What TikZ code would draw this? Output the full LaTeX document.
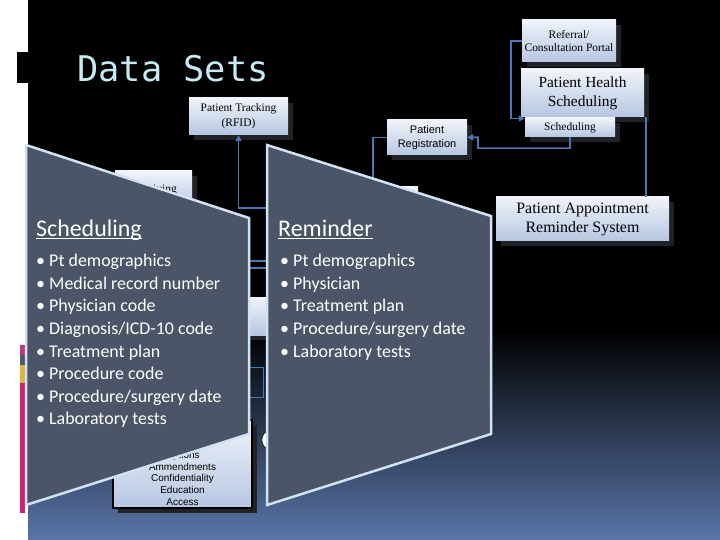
\documentclass[tikz,border=0pt]{standalone}
\usepackage{fontspec}
\setmainfont{Liberation Serif}
\newfontfamily\panelfont{Carlito}
\newfontfamily\labelsans{Liberation Sans}
\newfontfamily\titlemono{DejaVu Sans Mono}
\usetikzlibrary{arrows.meta,shadows}

\definecolor{slidecyan}{HTML}{C5EAF3}
\definecolor{panelfill}{HTML}{4C5567}
\definecolor{paneledge}{HTML}{CFE3F4}
\definecolor{boxtop}{HTML}{F0F4FA}
\definecolor{boxbottom}{HTML}{B6C6E2}
\definecolor{boxshadow}{HTML}{202228}
\definecolor{linkblue}{HTML}{4F76B4}
\definecolor{deepblue}{HTML}{5A75A8}
\definecolor{barpink}{HTML}{C8347A}
\definecolor{bargray}{HTML}{4A5868}
\definecolor{baryellow}{HTML}{E0B440}
\definecolor{barmagenta}{HTML}{D0206E}

\tikzset{
  sysbox/.style={rectangle, top color=boxtop, bottom color=boxbottom,
    align=center, inner sep=1bp, text=black,
    general shadow={fill=boxshadow, shadow xshift=5bp, shadow yshift=-5bp}},
  link/.style={draw=linkblue, line width=1.6bp, -{Triangle[length=6bp,width=6bp]}},
  linkline/.style={draw=linkblue, line width=1.6bp},
  panel/.style={fill=panelfill, draw=paneledge, line width=2.5bp},
  paneltitle/.style={anchor=base west, inner sep=0pt, text=white,
    font=\panelfont\fontsize{24}{28}\selectfont},
  panellist/.style={anchor=north west, inner sep=0pt, align=left, text=white,
    font=\panelfont\fontsize{18}{22.7}\selectfont},
  titlerule/.style={draw=white, line width=1bp}
}

\begin{document}
\begin{tikzpicture}[x=1bp, y=-1bp]
  \useasboundingbox (0,0) rectangle (720,540);
  % slide background
  \fill[white] (0,0) rectangle (720,540);
  \fill[black] (28,0) rectangle (720,330);
  \shade[top color=black, bottom color=deepblue] (28,330) rectangle (720,540);
  \fill[black] (17,52) rectangle (28,83);
  \fill[barpink]    (20,345) rectangle (25,355);
  \fill[bargray]    (20,355) rectangle (25,365);
  \fill[baryellow]  (20,365) rectangle (25,383);
  \fill[barmagenta] (20,383) rectangle (25,513);

  \node[anchor=base west, inner sep=0pt, text=slidecyan,
        font=\titlemono\fontsize{35.5}{42}\selectfont] (title) at (77,82) {Data Sets};

  % system boxes
  \node[sysbox, minimum width=94bp, minimum height=42bp, font=\fontsize{11.5}{14}\selectfont]
    (referral) at (569,41) {Referral/\\Consultation Portal};
  \node[sysbox, minimum width=123bp, minimum height=48bp, font=\fontsize{15.5}{19}\selectfont]
    (health) at (582.5,93) {Patient Health\\Scheduling};
  \node[sysbox, minimum width=90bp, minimum height=19bp, font=\fontsize{11.5}{14}\selectfont]
    (sched) at (570,127.5) {Scheduling};
  \node[sysbox, minimum width=80bp, minimum height=35bp, font=\labelsans\fontsize{11}{14}\selectfont]
    (regist) at (427,137.5) {Patient\\Registration};
  \node[sysbox, minimum width=99bp, minimum height=37bp, font=\fontsize{11.5}{15}\selectfont]
    (track) at (238.5,116.5) {Patient Tracking\\(RFID)};
  \node[sysbox, minimum width=173bp, minimum height=44bp, font=\fontsize{16}{19}\selectfont]
    (appoint) at (582.5,219) {Patient Appointment\\Reminder System};
  \node[sysbox, minimum width=77bp, minimum height=38bp, font=\fontsize{11.5}{14}\selectfont]
    (archive) at (153.5,190) {Archiving};
  \node[sysbox, minimum width=88bp, minimum height=50bp] (backright) at (374,212) {};
  \node[sysbox, minimum width=130bp, minimum height=38bp] (backmid) at (250,316) {};
  \draw[linkblue, line width=0.8bp] (190,367) rectangle (263,397);
  \draw[black, fill=white] (283,440) ellipse [x radius=21, y radius=14];
  \node[sysbox, draw=black, line width=1.5bp, minimum width=139bp, minimum height=88bp]
    (records) at (182.5,464) {};
  \node[anchor=south, inner sep=0pt, align=center, text=black,
        font=\labelsans\fontsize{10}{11.8}\selectfont]
    (recordtext) at ([yshift=3bp]records.south) {Options\\Ammendments\\Confidentiality\\Education\\Access};

  % connectors
  \coordinate (trackfeed) at (280,208);
  \coordinate (registdown) at (373,200);
  \coordinate (crossAw) at (240,261);
  \coordinate (crossAe) at (275,261);
  \coordinate (crossBw) at (240,268);
  \coordinate (crossBe) at (275,268);
  \draw[link] (referral.west) -- ++(-11,0) |- ([yshift=9bp]sched.west);
  \draw[link] (sched.south) |- ++(-92,11) -- ++(0,-11) -- (regist.east);
  \draw[linkline] ([xshift=2bp]health.south east) -- ([xshift=2bp]health.south east |- appoint.north);
  \draw[linkline] (regist.west) -| (registdown);
  \draw[link] (trackfeed) -| (track.south);
  \draw[linkline] (crossAw) -- (crossAe);
  \draw[linkline] (crossBw) -- (crossBe);

  % data set panels
  \draw[panel] (26,145) -- (249,218) -- (249,434) -- (26,505) -- cycle;
  \draw[panel] (267,145) -- (491,216) -- (491,434) -- (267,505) -- cycle;

  \node[paneltitle] (schedtitle) at (36,237) {Scheduling};
  \draw[titlerule] ([yshift=-2bp]schedtitle.base west) -- ([yshift=-2bp]schedtitle.base east);
  \node[panellist] (schedlist) at (36,254) {\textbullet\ Pt demographics\\
    \textbullet\ Medical record number\\
    \textbullet\ Physician code\\
    \textbullet\ Diagnosis/ICD-10 code\\
    \textbullet\ Treatment plan\\
    \textbullet\ Procedure code\\
    \textbullet\ Procedure/surgery date\\
    \textbullet\ Laboratory tests};

  \node[paneltitle] (remindtitle) at (278,237) {Reminder};
  \draw[titlerule] ([yshift=-2bp]remindtitle.base west) -- ([yshift=-2bp]remindtitle.base east);
  \node[panellist] (remindlist) at (280,254) {\textbullet\ Pt demographics\\
    \textbullet\ Physician\\
    \textbullet\ Treatment plan\\
    \textbullet\ Procedure/surgery date\\
    \textbullet\ Laboratory tests};
\end{tikzpicture}
\end{document}
